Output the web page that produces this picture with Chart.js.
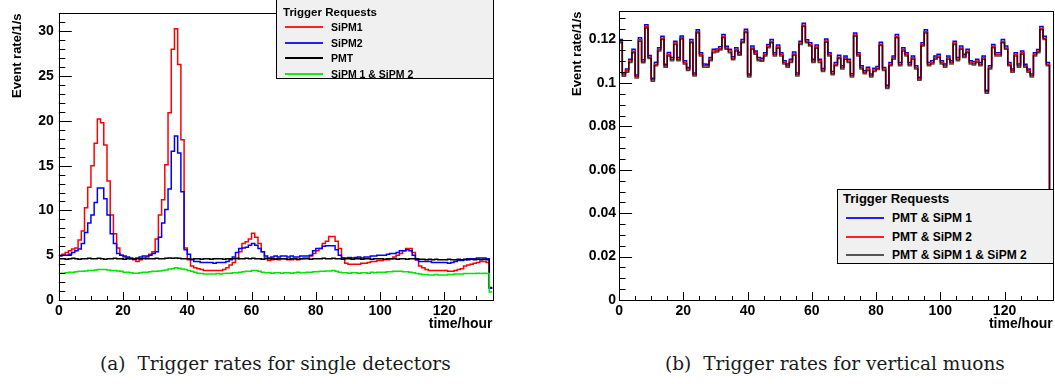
<!DOCTYPE html>
<html lang="en">
<head>
<meta charset="UTF-8">
<title>Trigger rates</title>
<script src="https://cdn.jsdelivr.net/npm/chart.js"></script>
<style>
    html, body { margin: 0; padding: 0; background: #fff; }
    body { width: 1055px; height: 384px; position: relative; overflow: hidden; font-family: 'Liberation Sans', Arial, sans-serif; }
    canvas { position: absolute; top: 0; }
    #chartA { left: 0; }
    #chartB { left: 527px; }
    .legend { position: absolute; background: #f0f0f0; border: 1px solid #000; box-sizing: border-box; font-weight: bold; color: #000; }
    .legend div { position: absolute; white-space: nowrap; line-height: 14px; }
    .legend .sw { height: 2px; width: 38px; left: 8px; }
    .caption { position: absolute; top: 352px; font-family: 'DejaVu Serif', serif; font-size: 18.5px; line-height: 24px; color: #1a1a1a; white-space: nowrap; }
    .caption b { font-weight: normal; margin-right: 12px; }
</style>
</head>
<body>
<canvas id="chartA" width="527" height="340"></canvas>
<canvas id="chartB" width="528" height="340"></canvas>

<div class="legend" style="left:276px; top:-1px; width:218px; height:80px; font-size:11.5px;">
    <div style="left:6px; top:5px;">Trigger Requests</div>
    <div class="sw" style="top:26px; background:#ff2020;"></div><div style="left:54px; top:20px; font-size:10.5px;">SiPM1</div>
    <div class="sw" style="top:42px; background:#2020ff;"></div><div style="left:54px; top:36px; font-size:10.5px;">SiPM2</div>
    <div class="sw" style="top:57px; background:#000;"></div><div style="left:54px; top:51px; font-size:10.5px;">PMT</div>
    <div class="sw" style="top:73px; background:#20e620;"></div><div style="left:54px; top:67px; font-size:10.5px;">SiPM 1 &amp; SiPM 2</div>
</div>

<div class="legend" style="left:837px; top:189px; width:217px; height:75px; font-size:13px;">
    <div style="left:5px; top:2px;">Trigger Requests</div>
    <div class="sw" style="top:27px; background:#2020ff;"></div><div style="left:54px; top:21px; font-size:12px;">PMT &amp; SiPM 1</div>
    <div class="sw" style="top:46px; background:#ff2020;"></div><div style="left:54px; top:40px; font-size:12px;">PMT &amp; SiPM 2</div>
    <div class="sw" style="top:64px; background:#555;"></div><div style="left:54px; top:58px; font-size:12px;">PMT &amp; SiPM 1 &amp; SiPM 2</div>
</div>

<div class="caption" style="left:100px;"><b>(a)</b>Trigger rates for single detectors</div>
<div class="caption" style="left:665px;"><b>(b)</b>Trigger rates for vertical muons</div>

<script>
// histogram binning, hours
const binHours = 1;
const timeMax = 135;

// (a) single detector trigger rates, 1/s per hour bin
const sipm1Rate = [
    5.0, 5.1, 5.3, 5.5, 5.7, 5.8, 6.7, 7.7, 10.3, 12.6,
    15.0, 17.5, 20.2, 19.8, 17.3, 13.3, 9.5, 7.4, 5.8, 5.0,
    4.8, 4.7, 4.6, 4.5, 4.3, 4.5, 4.6, 4.8, 5.1, 5.4,
    6.8, 9.5, 11.2, 15.1, 20.9, 28.0, 30.3, 26.3, 17.9, 5.8,
    4.5, 3.8, 3.6, 3.5, 3.4, 3.3, 3.3, 3.3, 3.3, 3.3,
    3.3, 3.4, 3.6, 3.9, 4.2, 4.6, 5.4, 6.3, 6.5, 6.8,
    7.45, 7.0, 6.3, 5.4, 4.7, 4.4, 4.5, 4.6, 4.5, 4.6,
    4.6, 4.5, 4.5, 4.6, 4.5, 4.6, 4.7, 4.7, 4.9, 5.2,
    5.5, 5.75, 6.3, 6.55, 7.1, 7.1, 6.55, 5.75, 4.7, 4.1,
    4.0, 4.0, 4.0, 4.0, 4.1, 4.1, 4.2, 4.3, 4.3, 4.4,
    4.4, 4.5, 4.5, 4.6, 4.8, 5.0, 5.2, 5.5, 5.75, 5.75,
    5.3, 4.5, 3.8, 3.6, 3.4, 3.3, 3.3, 3.3, 3.3, 3.3,
    3.3, 3.2, 3.2, 3.3, 3.4, 3.5, 3.8, 3.9, 4.0, 4.1,
    4.2, 4.3, 4.3, 4.2, 1.3
];
const sipm2Rate = [
    4.9, 5.0, 5.0, 5.1, 5.3, 5.5, 5.7, 6.3, 7.55, 8.6,
    9.5, 10.9, 12.5, 12.5, 11.3, 9.5, 7.4, 6.3, 5.2, 5.0,
    4.9, 4.8, 4.7, 4.6, 4.7, 4.8, 4.9, 4.9, 5.0, 5.2,
    5.4, 7.0, 8.6, 10.1, 12.4, 16.6, 18.3, 16.4, 12.1, 5.6,
    5.1, 4.5, 4.3, 4.3, 4.2, 4.2, 4.2, 4.2, 4.1, 4.2,
    4.2, 4.2, 4.3, 4.5, 4.8, 5.3, 5.75, 5.8, 5.9, 6.1,
    6.3, 6.1, 5.75, 5.4, 4.9, 4.7, 4.8, 4.9, 4.8, 4.9,
    4.9, 4.8, 4.9, 4.8, 4.8, 4.9, 4.9, 4.9, 5.0, 5.5,
    5.75, 5.75, 6.0, 6.05, 6.05, 6.05, 5.6, 5.0, 4.7, 4.7,
    4.75, 4.7, 4.75, 4.8, 4.7, 4.8, 4.8, 4.9, 4.9, 5.0,
    5.0, 5.0, 5.1, 5.2, 5.2, 5.3, 5.5, 5.5, 5.6, 5.5,
    5.0, 4.5, 4.3, 4.3, 4.3, 4.3, 4.2, 4.2, 4.2, 4.2,
    4.2, 4.1, 4.2, 4.3, 4.4, 4.4, 4.5, 4.6, 4.6, 4.6,
    4.7, 4.7, 4.7, 4.6, 1.3
];
const pmtRate = [
    4.6, 4.6, 4.55, 4.6, 4.65, 4.6, 4.55, 4.6, 4.6, 4.65,
    4.6, 4.6, 4.65, 4.6, 4.55, 4.6, 4.6, 4.65, 4.6, 4.6,
    4.55, 4.6, 4.6, 4.55, 4.6, 4.6, 4.65, 4.6, 4.6, 4.6,
    4.65, 4.6, 4.6, 4.65, 4.7, 4.65, 4.7, 4.65, 4.6, 4.6,
    4.6, 4.55, 4.6, 4.6, 4.55, 4.6, 4.6, 4.55, 4.6, 4.6,
    4.6, 4.55, 4.6, 4.6, 4.6, 4.65, 4.6, 4.6, 4.65, 4.6,
    4.65, 4.6, 4.6, 4.55, 4.6, 4.6, 4.6, 4.55, 4.6, 4.6,
    4.6, 4.55, 4.6, 4.6, 4.55, 4.6, 4.6, 4.6, 4.55, 4.6,
    4.6, 4.6, 4.65, 4.6, 4.6, 4.65, 4.6, 4.6, 4.55, 4.6,
    4.6, 4.55, 4.6, 4.6, 4.55, 4.6, 4.6, 4.55, 4.6, 4.6,
    4.6, 4.55, 4.6, 4.6, 4.6, 4.55, 4.6, 4.6, 4.55, 4.6,
    4.6, 4.6, 4.55, 4.55, 4.5, 4.55, 4.5, 4.55, 4.5, 4.5,
    4.5, 4.55, 4.5, 4.5, 4.55, 4.5, 4.55, 4.5, 4.55, 4.5,
    4.55, 4.5, 4.55, 4.5, 1.4
];
const sipm12Rate = [
    3.0, 3.0, 3.05, 3.1, 3.1, 3.15, 3.2, 3.2, 3.25, 3.3,
    3.3, 3.35, 3.4, 3.4, 3.4, 3.35, 3.3, 3.3, 3.25, 3.2,
    3.1, 3.1, 3.05, 3.0, 3.0, 3.05, 3.1, 3.1, 3.15, 3.2,
    3.2, 3.25, 3.3, 3.35, 3.45, 3.5, 3.6, 3.55, 3.45, 3.4,
    3.3, 3.2, 3.1, 3.0, 2.95, 2.9, 2.9, 2.9, 2.9, 2.95,
    2.9, 2.95, 3.0, 3.0, 3.05, 3.05, 3.1, 3.15, 3.2, 3.2,
    3.3, 3.3, 3.2, 3.1, 3.05, 3.05, 3.0, 3.05, 3.05, 3.0,
    3.05, 3.05, 3.0, 3.05, 3.1, 3.05, 3.05, 3.1, 3.1, 3.15,
    3.15, 3.2, 3.2, 3.25, 3.25, 3.3, 3.2, 3.1, 3.05, 3.05,
    3.0, 3.05, 3.05, 3.0, 3.05, 3.05, 3.0, 3.1, 3.05, 3.1,
    3.1, 3.1, 3.15, 3.15, 3.2, 3.2, 3.2, 3.15, 3.15, 3.1,
    3.05, 2.95, 2.9, 2.85, 2.85, 2.8, 2.8, 2.85, 2.8, 2.8,
    2.8, 2.85, 2.85, 2.9, 2.9, 2.9, 2.95, 2.95, 2.95, 2.95,
    3.0, 2.95, 3.0, 2.95, 0.9
];

// (b) vertical muon coincidence rates, 1/s per hour bin
const pmtSipm1Rate = [
    0.1200, 0.1046, 0.1064, 0.1110, 0.1156, 0.1037, 0.1209, 0.1107, 0.1268, 0.1127,
    0.1022, 0.1096, 0.1162, 0.1216, 0.1087, 0.1141, 0.1117, 0.1193, 0.1118, 0.1217,
    0.1103, 0.1071, 0.1201, 0.1046, 0.1246, 0.1139, 0.1088, 0.1087, 0.1117, 0.1156,
    0.1157, 0.1167, 0.1223, 0.1169, 0.1155, 0.1121, 0.1163, 0.1142, 0.1201, 0.1248,
    0.1042, 0.1170, 0.1147, 0.1118, 0.1114, 0.1140, 0.1178, 0.1200, 0.1139, 0.1175,
    0.1140, 0.1102, 0.1088, 0.1109, 0.1143, 0.1046, 0.1193, 0.1275, 0.1199, 0.1185,
    0.1109, 0.1175, 0.1110, 0.1067, 0.1203, 0.1139, 0.1053, 0.1094, 0.1128, 0.1079,
    0.1125, 0.1109, 0.1043, 0.1230, 0.1139, 0.1080, 0.1057, 0.1073, 0.1042, 0.1068,
    0.1076, 0.1188, 0.1072, 0.0990, 0.1094, 0.1125, 0.1223, 0.1094, 0.1163, 0.1139,
    0.1095, 0.1124, 0.1080, 0.1027, 0.1185, 0.1245, 0.1094, 0.1103, 0.1124, 0.1133,
    0.1102, 0.1088, 0.1124, 0.1103, 0.1193, 0.1117, 0.1170, 0.1132, 0.1155, 0.1102,
    0.1098, 0.1109, 0.1095, 0.1124, 0.0967, 0.1080, 0.1178, 0.1139, 0.1140, 0.1200,
    0.1170, 0.1094, 0.1065, 0.1139, 0.1088, 0.1148, 0.1087, 0.1065, 0.1042, 0.1140,
    0.1154, 0.1260, 0.1215, 0.1095, 0.0305
];
const pmtSipm2Rate = [
    0.1191, 0.1038, 0.1056, 0.1101, 0.1146, 0.1030, 0.1199, 0.1099, 0.1259, 0.1119,
    0.1015, 0.1087, 0.1154, 0.1206, 0.1080, 0.1131, 0.1110, 0.1184, 0.1109, 0.1209,
    0.1095, 0.1064, 0.1191, 0.1039, 0.1236, 0.1131, 0.1080, 0.1079, 0.1109, 0.1147,
    0.1149, 0.1158, 0.1214, 0.1161, 0.1147, 0.1113, 0.1154, 0.1134, 0.1191, 0.1239,
    0.1035, 0.1161, 0.1139, 0.1110, 0.1106, 0.1131, 0.1169, 0.1191, 0.1131, 0.1166,
    0.1131, 0.1095, 0.1080, 0.1101, 0.1134, 0.1039, 0.1184, 0.1266, 0.1191, 0.1176,
    0.1101, 0.1166, 0.1102, 0.1060, 0.1194, 0.1131, 0.1045, 0.1086, 0.1119, 0.1072,
    0.1116, 0.1101, 0.1035, 0.1221, 0.1131, 0.1072, 0.1049, 0.1065, 0.1035, 0.1060,
    0.1068, 0.1179, 0.1065, 0.0982, 0.1086, 0.1116, 0.1214, 0.1087, 0.1154, 0.1131,
    0.1087, 0.1116, 0.1072, 0.1020, 0.1176, 0.1236, 0.1087, 0.1094, 0.1116, 0.1124,
    0.1094, 0.1080, 0.1116, 0.1095, 0.1184, 0.1110, 0.1161, 0.1124, 0.1146, 0.1094,
    0.1090, 0.1101, 0.1087, 0.1116, 0.0960, 0.1072, 0.1169, 0.1131, 0.1131, 0.1191,
    0.1161, 0.1087, 0.1057, 0.1131, 0.1080, 0.1139, 0.1080, 0.1057, 0.1035, 0.1131,
    0.1146, 0.1251, 0.1206, 0.1087, 0.0302
];
const pmtSipm12Rate = [
    0.1185, 0.1031, 0.1050, 0.1095, 0.1140, 0.1023, 0.1193, 0.1093, 0.1253, 0.1113,
    0.1008, 0.1080, 0.1148, 0.1200, 0.1073, 0.1125, 0.1103, 0.1178, 0.1103, 0.1203,
    0.1088, 0.1058, 0.1185, 0.1032, 0.1230, 0.1125, 0.1073, 0.1073, 0.1103, 0.1140,
    0.1143, 0.1152, 0.1208, 0.1155, 0.1140, 0.1107, 0.1148, 0.1128, 0.1185, 0.1233,
    0.1028, 0.1155, 0.1133, 0.1103, 0.1100, 0.1125, 0.1163, 0.1185, 0.1125, 0.1160,
    0.1125, 0.1088, 0.1073, 0.1095, 0.1128, 0.1032, 0.1178, 0.1260, 0.1185, 0.1170,
    0.1095, 0.1160, 0.1095, 0.1053, 0.1188, 0.1125, 0.1038, 0.1080, 0.1113, 0.1065,
    0.1110, 0.1095, 0.1028, 0.1215, 0.1125, 0.1065, 0.1043, 0.1058, 0.1028, 0.1053,
    0.1062, 0.1173, 0.1058, 0.0975, 0.1080, 0.1110, 0.1208, 0.1080, 0.1148, 0.1125,
    0.1080, 0.1110, 0.1065, 0.1013, 0.1170, 0.1230, 0.1080, 0.1088, 0.1110, 0.1118,
    0.1088, 0.1073, 0.1110, 0.1088, 0.1178, 0.1103, 0.1155, 0.1118, 0.1140, 0.1088,
    0.1083, 0.1095, 0.1080, 0.1110, 0.0953, 0.1065, 0.1163, 0.1125, 0.1125, 0.1185,
    0.1155, 0.1080, 0.1050, 0.1125, 0.1073, 0.1133, 0.1073, 0.1050, 0.1028, 0.1125,
    0.1140, 0.1245, 0.1200, 0.1080, 0.0300
];

// axis ranges / tick steps
const timeStep = 20, timeMinor = 5;
const rateAMax = 32, rateAStep = 5, rateAMinor = 1;
const rateBMax = 0.133, rateBStep = 0.02, rateBMinor = 0.005;

Chart.defaults.font.family = "'Liberation Sans', Arial, sans-serif";
Chart.defaults.color = '#000';

// bins -> step points (low edges + closing edge)
function histPoints(vals) {
    const pts = vals.map((v, i) => ({ x: i * binHours, y: v }));
    pts.push({ x: vals.length * binHours, y: vals[vals.length - 1] });
    return pts;
}

// ROOT-like frame with ticks drawn inside
const rootFrame = {
    id: 'rootFrame',
    afterDatasetsDraw(chart, args, o) {
        const { ctx, chartArea: a } = chart;
        const xs = chart.scales.x, ys = chart.scales.y;
        ctx.save();
        ctx.strokeStyle = '#000';
        ctx.lineWidth = 1;
        ctx.beginPath();
        for (let i = 0; i * o.xMinor <= xs.max + 1e-9; i++) {
            const px = Math.round(xs.getPixelForValue(i * o.xMinor)) + 0.5;
            const len = i % o.xPer === 0 ? 8 : 4;
            ctx.moveTo(px, a.bottom); ctx.lineTo(px, a.bottom - len);
        }
        for (let i = 0; i * o.yMinor <= ys.max + 1e-9; i++) {
            const py = Math.round(ys.getPixelForValue(i * o.yMinor)) + 0.5;
            const len = i % o.yPer === 0 ? 13 : 6.5;
            ctx.moveTo(a.left, py); ctx.lineTo(a.left + len, py);
        }
        ctx.stroke();
        const l = Math.round(a.left) + 0.5, t = Math.round(a.top) + 0.5;
        ctx.strokeRect(l, t, Math.round(a.right) - Math.round(a.left), Math.round(a.bottom) - Math.round(a.top));
        ctx.restore();
    }
};

function ds(label, vals, color, order) {
    return { label, data: histPoints(vals), borderColor: color, borderWidth: 1.5,
             stepped: 'before', pointRadius: 0, fill: false, order };
}

function rateChart(id, c) {
    return new Chart(document.getElementById(id), {
        type: 'line',
        data: { datasets: c.datasets },
        plugins: [rootFrame],
        options: {
            responsive: false,
            animation: false,
            layout: { padding: { left: 0, top: c.padTop, right: c.padRight, bottom: 0 } },
            plugins: {
                legend: { display: false },
                tooltip: { enabled: false },
                rootFrame: { xMinor: timeMinor, xPer: timeStep / timeMinor, yMinor: c.yMinor, yPer: c.yPer }
            },
            scales: {
                x: {
                    type: 'linear', min: 0, max: timeMax,
                    grid: { display: false, drawTicks: false }, border: { display: false },
                    ticks: { stepSize: timeStep, includeBounds: false, autoSkip: false, maxRotation: 0,
                             padding: 3, font: { size: 14, weight: 'bold' } },
                    title: { display: true, text: 'time/hour', align: 'end',
                             font: { size: 14, weight: 'bold' }, padding: { top: 0, bottom: 7 } },
                    afterFit: s => { s.height = 40; }
                },
                y: {
                    min: 0, max: c.yMax,
                    grid: { display: false, drawTicks: false }, border: { display: false },
                    ticks: { stepSize: c.yStep, includeBounds: false, padding: c.yLabelPad,
                             font: { size: 14, weight: 'bold' },
                             callback: v => String(parseFloat(v.toFixed(3))) },
                    title: { display: true, text: 'Event rate/1/s', align: 'end',
                             font: { size: 13, weight: 'bold' }, padding: { top: c.yTitlePad, bottom: 0 } },
                    afterFit: s => { s.width = c.yWidth; }
                }
            }
        }
    });
}

rateChart('chartA', {
    datasets: [
        ds('SiPM1', sipm1Rate, '#ff0000', 4),
        ds('SiPM2', sipm2Rate, '#0000ff', 3),
        ds('PMT', pmtRate, '#000000', 2),
        ds('SiPM 1 & SiPM 2', sipm12Rate, '#00e600', 1)
    ],
    yMax: rateAMax, yStep: rateAStep, yMinor: rateAMinor, yPer: rateAStep / rateAMinor,
    yWidth: 58.8, yLabelPad: 5, yTitlePad: 10, padTop: 4, padRight: 34.5
});

rateChart('chartB', {
    datasets: [
        ds('PMT & SiPM 1', pmtSipm1Rate, '#0000ff', 3),
        ds('PMT & SiPM 2', pmtSipm2Rate, '#ff0000', 2),
        ds('PMT & SiPM 1 & SiPM 2', pmtSipm12Rate, 'rgba(0,0,0,0.72)', 1)
    ],
    yMax: rateBMax, yStep: rateBStep, yMinor: rateBMinor, yPer: 4,
    yWidth: 92.1, yLabelPad: 3, yTitlePad: 43, padTop: 4.3, padRight: 2.3
});
</script>
</body>
</html>
